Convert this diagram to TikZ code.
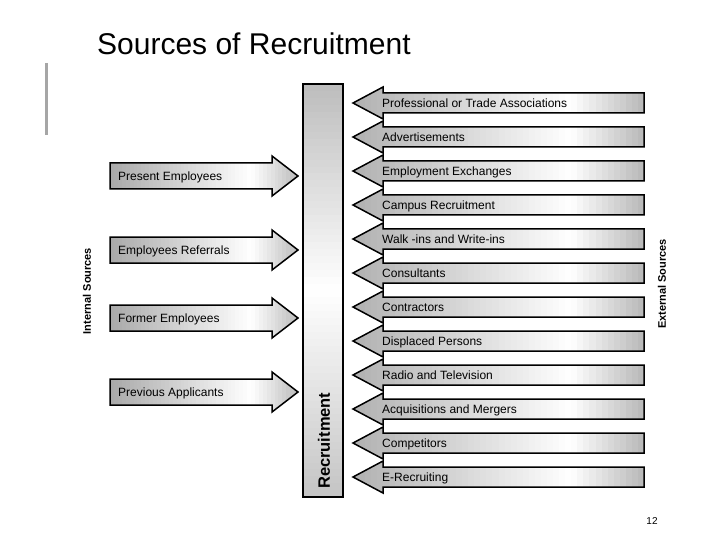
\documentclass[tikz,border=0pt]{standalone}
\usepackage{fontspec}
\setmainfont{Liberation Sans}
\tikzset{
  arrowline/.style={
    draw=black,
    line width=1.5pt,
    line join=miter
  },
  hubbar/.style={
    draw=black,
    line width=1.5pt,
    minimum width=40pt,
    minimum height=413pt,
    inner sep=0pt
  },
  srctext/.style={
    anchor=base west,
    inner sep=0pt,
    font=\fontsize{12}{14}\selectfont
  },
  sidetext/.style={
    rotate=90,
    inner sep=0pt,
    font=\bfseries\fontsize{11}{13}\selectfont
  }
}
% grey ramp left to right, white at 3/4: x0, x1, y0, y1, dark left, dark right
\newcommand{\hramp}[6]{
  \foreach \k in {0,...,47}{
    \pgfmathsetmacro{\rampt}{(\k+0.5)/48}
    \pgfmathsetmacro{\rampb}{max(#5*(1-\rampt/0.75), #6*(\rampt-0.75)/0.25, 0)}
    \fill[black!\rampb] ({#1+(#2-#1)/48*\k},#3) rectangle ({#1+(#2-#1)/48*(\k+1)+0.6},#4);
  }
}
% grey ramp top to bottom, white half way: y0, y1, x0, x1, dark top, dark bottom
\newcommand{\vramp}[6]{
  \foreach \k in {0,...,59}{
    \pgfmathsetmacro{\rampt}{(\k+0.5)/60}
    \pgfmathsetmacro{\rampb}{max(#5*(1-\rampt/0.5), #6*(\rampt-0.5)/0.5, 0)}
    \fill[black!\rampb] (#3,{#1+(#2-#1)/60*\k}) rectangle (#4,{#1+(#2-#1)/60*(\k+1)+0.6});
  }
}
% arrow into the bar from the right: name, y, text
\newcommand{\extsrc}[3]{
  \begin{scope}
    \clip (644,#2-10) -- (383,#2-10) -- (383,#2-16) -- (353,#2)
      -- (383,#2+16) -- (383,#2+10) -- (644,#2+10) -- cycle;
    \hramp{353}{644}{#2-17}{#2+17}{31}{28}
  \end{scope}
  \draw[arrowline] (644,#2-10) -- (383,#2-10) -- (383,#2-16) -- (353,#2)
    -- (383,#2+16) -- (383,#2+10) -- (644,#2+10) -- cycle;
  \node[srctext] (#1) at (382,#2+4.3) {#3};
}
% arrow into the bar from the left: name, y, text
\newcommand{\intsrc}[3]{
  \begin{scope}
    \clip (110,#2-13) -- (272,#2-13) -- (272,#2-20) -- (298,#2)
      -- (272,#2+20) -- (272,#2+13) -- (110,#2+13) -- cycle;
    \hramp{110}{298}{#2-21}{#2+21}{34}{26}
  \end{scope}
  \draw[arrowline] (110,#2-13) -- (272,#2-13) -- (272,#2-20) -- (298,#2)
    -- (272,#2+20) -- (272,#2+13) -- (110,#2+13) -- cycle;
  \node[srctext] (#1) at (118,#2+4.3) {#3};
}

\begin{document}
\begin{tikzpicture}[x=1pt,y=-1pt]
    \useasboundingbox (0,0) rectangle (720,540);

    % title
    \node[anchor=base west, inner sep=0pt, font=\fontsize{30}{34}\selectfont]
      (title) at (97,55) {Sources of Recruitment};
    \draw[gray!70, line width=3pt] (46,63) -- (46,135);

    % the bar
    \vramp{84}{497}{303}{343}{26}{23}
    \node[hubbar] (hub) at (323,290.5) {};
    \node[rotate=90, anchor=west, inner sep=0pt,
      font=\bfseries\fontsize{16.5}{18}\selectfont] (hublabel) at (324,489) {Recruitment};

    % internal sources
    \intsrc{present}{176}{Present Employees}
    \intsrc{referrals}{250}{Employees Referrals}
    \intsrc{former}{318}{Former Employees}
    \intsrc{previous}{392}{Previous Applicants}
    \node[sidetext] (internal) at (87,291) {Internal Sources};

    % external sources
    \extsrc{trade}{103}{Professional or Trade Associations}
    \extsrc{adverts}{137}{Advertisements}
    \extsrc{exchanges}{171}{Employment Exchanges}
    \extsrc{campus}{205}{Campus Recruitment}
    \extsrc{walkins}{239}{Walk -ins and Write-ins}
    \extsrc{consult}{273}{Consultants}
    \extsrc{contract}{307}{Contractors}
    \extsrc{displaced}{341}{Displaced Persons}
    \extsrc{radio}{375}{Radio and Television}
    \extsrc{mergers}{409}{Acquisitions and Mergers}
    \extsrc{rivals}{443}{Competitors}
    \extsrc{erecruit}{477}{E-Recruiting}
    \node[sidetext] (external) at (662,284) {External Sources};

    \node[font=\fontsize{10}{12}\selectfont] (pagenum) at (652,521) {12};
\end{tikzpicture}
\end{document}
